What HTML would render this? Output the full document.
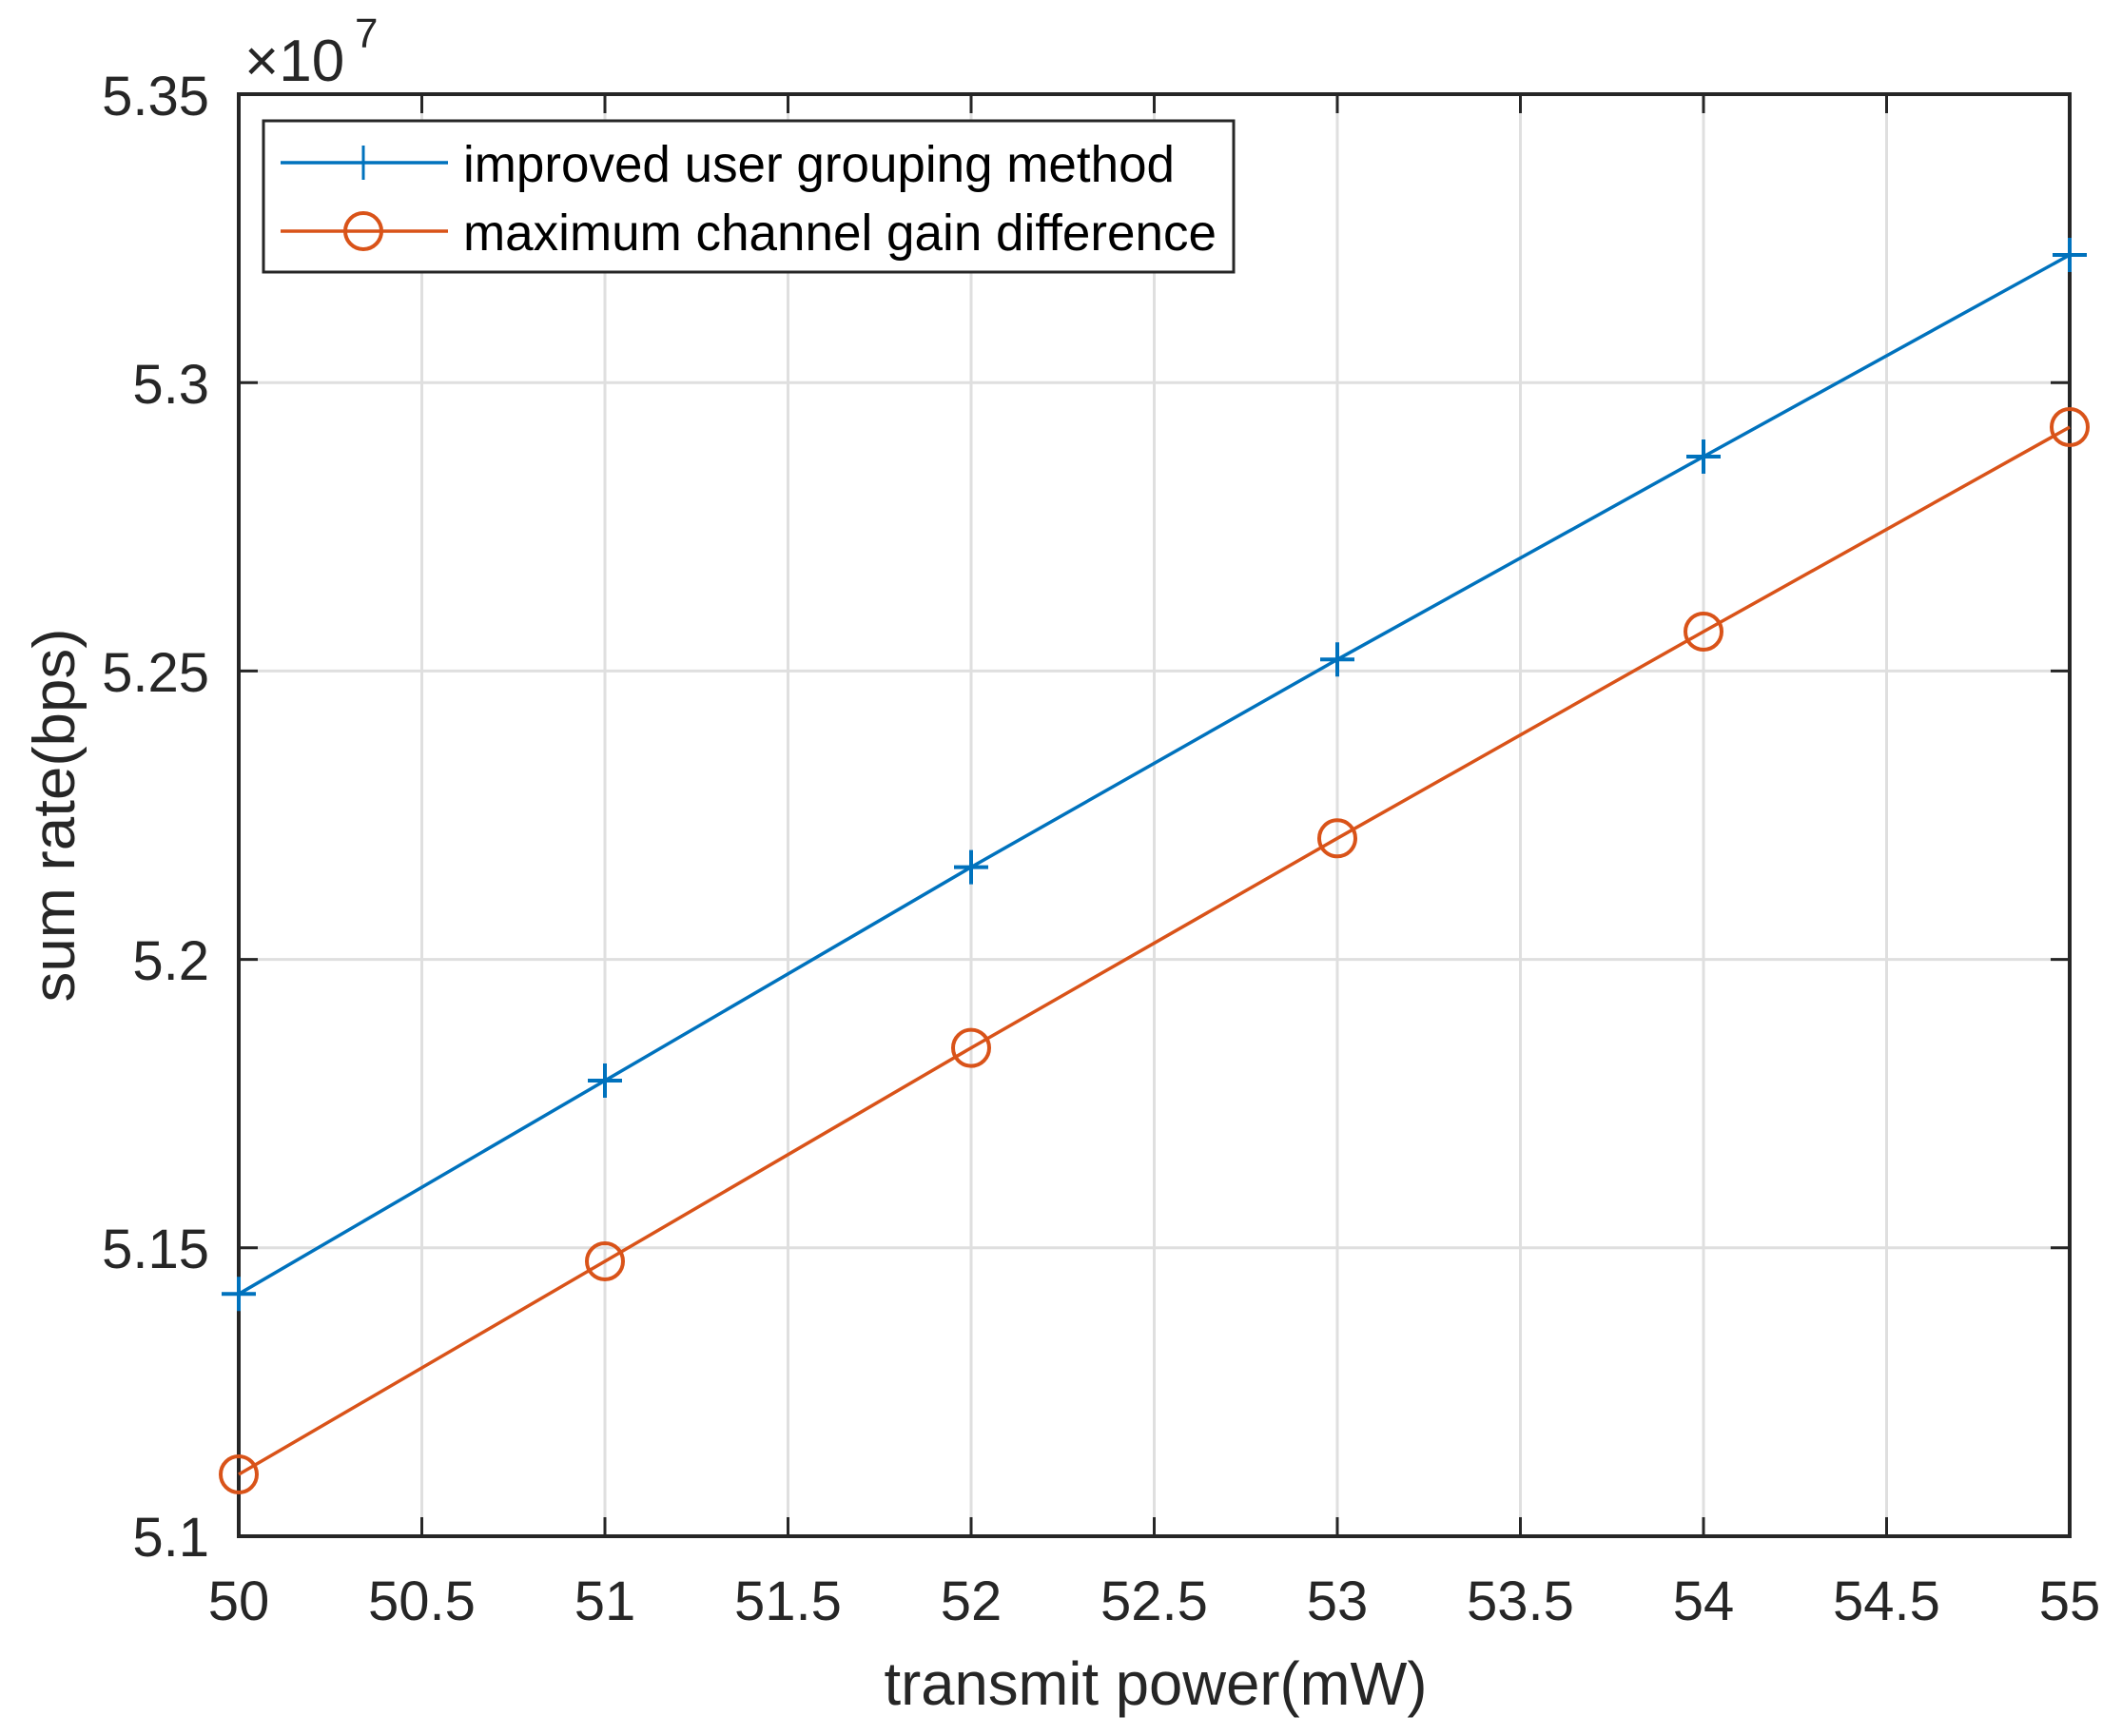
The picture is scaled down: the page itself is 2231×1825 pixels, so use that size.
<!DOCTYPE html>
<html><head><meta charset="utf-8"><style>html,body{margin:0;padding:0;background:#fff}svg{display:block}</style></head>
<body>
<svg width="2231" height="1825" viewBox="0 0 2231 1825" xmlns="http://www.w3.org/2000/svg" font-family="Liberation Sans, Arial, sans-serif">
<rect width="2231" height="1825" fill="#fff"/>
<g stroke="#dfdfdf" stroke-width="3">
<line x1="443.5" y1="99" x2="443.5" y2="1615"/><line x1="636" y1="99" x2="636" y2="1615"/><line x1="828.5" y1="99" x2="828.5" y2="1615"/><line x1="1021" y1="99" x2="1021" y2="1615"/><line x1="1213.5" y1="99" x2="1213.5" y2="1615"/><line x1="1406" y1="99" x2="1406" y2="1615"/><line x1="1598.5" y1="99" x2="1598.5" y2="1615"/><line x1="1791" y1="99" x2="1791" y2="1615"/><line x1="1983.5" y1="99" x2="1983.5" y2="1615"/>
<line x1="251" y1="402.2" x2="2176" y2="402.2"/><line x1="251" y1="705.4" x2="2176" y2="705.4"/><line x1="251" y1="1008.6" x2="2176" y2="1008.6"/><line x1="251" y1="1311.8" x2="2176" y2="1311.8"/>
</g>
<g stroke="#262626" stroke-width="3">
<path d="M443.5 1615v-20M636 1615v-20M828.5 1615v-20M1021 1615v-20M1213.5 1615v-20M1406 1615v-20M1598.5 1615v-20M1791 1615v-20M1983.5 1615v-20"/>
<path d="M443.5 99v20M636 99v20M828.5 99v20M1021 99v20M1213.5 99v20M1406 99v20M1598.5 99v20M1791 99v20M1983.5 99v20"/>
<path d="M251 402.2h20M251 705.4h20M251 1008.6h20M251 1311.8h20M2176 402.2h-20M2176 705.4h-20M2176 1008.6h-20M2176 1311.8h-20"/>
<rect x="251" y="99" width="1925" height="1516" fill="none" stroke-width="4"/>
</g>
<polyline fill="none" stroke="#0072bd" stroke-width="3.5" points="251,1360.3 636,1136 1021,911.6 1406,693.3 1791,480.0 2176,268"/>
<g stroke="#0072bd" stroke-width="4">
<path d="M233 1360.3h36M251 1342.3v36M618 1136h36M636 1118v36M1003 911.6h36M1021 893.6v36M1388 693.3h36M1406 675.3v36M1773 480h36M1791 462v36M2158 268h36M2176 250v36"/>
</g>
<polyline fill="none" stroke="#d95319" stroke-width="3.5" points="251,1550 636,1326 1021,1101.6 1406,881.3 1791,664 2176,449"/>
<g fill="none" stroke="#d95319" stroke-width="4">
<circle cx="251" cy="1550" r="19"/><circle cx="636" cy="1326" r="19"/><circle cx="1021" cy="1101.6" r="19"/><circle cx="1406" cy="881.3" r="19"/><circle cx="1791" cy="664" r="19"/><circle cx="2176" cy="449" r="19"/>
</g>
<g fill="#262626" font-size="58" text-anchor="middle">
<text x="251" y="1703">50</text><text x="443.5" y="1703">50.5</text><text x="636" y="1703">51</text><text x="828.5" y="1703">51.5</text><text x="1021" y="1703">52</text><text x="1213.5" y="1703">52.5</text><text x="1406" y="1703">53</text><text x="1598.5" y="1703">53.5</text><text x="1791" y="1703">54</text><text x="1983.5" y="1703">54.5</text><text x="2176" y="1703">55</text>
</g>
<g fill="#262626" font-size="58" text-anchor="end">
<text x="220" y="1636">5.1</text><text x="220" y="1333">5.15</text><text x="220" y="1030">5.2</text><text x="220" y="727">5.25</text><text x="220" y="424">5.3</text><text x="220" y="121">5.35</text>
</g>
<text x="257" y="85" font-size="62" fill="#262626">×10</text>
<text x="373" y="50" font-size="44" fill="#262626">7</text>
<text x="1215" y="1792" font-size="64" fill="#262626" text-anchor="middle" textLength="571" lengthAdjust="spacingAndGlyphs">transmit power(mW)</text>
<text transform="translate(78,857) rotate(-90)" font-size="62" fill="#262626" text-anchor="middle" textLength="393" lengthAdjust="spacingAndGlyphs">sum rate(bps)</text>
<rect x="277" y="127" width="1020" height="159" fill="#fff" stroke="#262626" stroke-width="3"/>
<line x1="295" y1="171" x2="471" y2="171" stroke="#0072bd" stroke-width="3.5"/>
<path d="M364 171h36M382 153v36" stroke="#0072bd" stroke-width="3"/>
<line x1="295" y1="243" x2="471" y2="243" stroke="#d95319" stroke-width="3.5"/>
<circle cx="382" cy="243" r="19" fill="none" stroke="#d95319" stroke-width="4"/>
<text x="487" y="191" font-size="54" fill="#000" textLength="748" lengthAdjust="spacingAndGlyphs">improved user grouping method</text>
<text x="487" y="263" font-size="54" fill="#000" textLength="792" lengthAdjust="spacingAndGlyphs">maximum channel gain difference</text>
</svg>
</body></html>
